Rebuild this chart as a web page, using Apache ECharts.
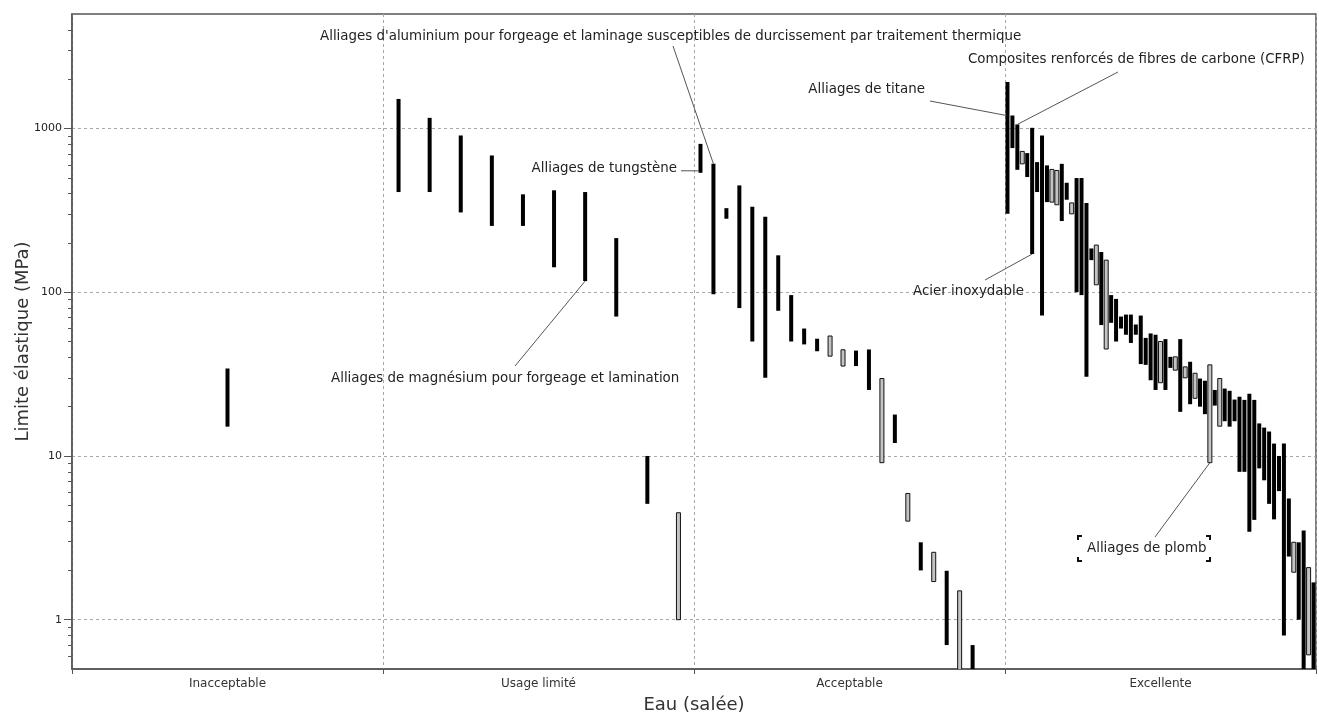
<!DOCTYPE html>
<html>
<head>
<meta charset="utf-8">
<script src="https://cdn.jsdelivr.net/npm/echarts@6/dist/echarts.min.js"></script>
<style>
html,body{margin:0;padding:0;background:#fff;}
#c{width:1319px;height:717px;}
</style>
</head>
<body>
<div id="c"></div>
<script>
// ---------- DATA ----------
const categories = ['Inacceptable', 'Usage limité', 'Acceptable', 'Excellente'];

// Inacceptable
const inaccMin  = [15.1];
const inaccMax  = [34.2];
const inaccOpen = [0];

// Usage limité
const limiteMin  = [409, 409, 307, 254, 254, 142, 117, 71, 5.1, 1.0];
const limiteMax  = [1514, 1161, 906, 684, 396, 419, 409, 214, 10, 4.5];
const limiteOpen = [0, 0, 0, 0, 0, 0, 0, 0, 0, 1];

// Acceptable
const acceptMin  = [536, 97, 281, 80, 50, 30, 77, 50, 48, 43.6, 40.7, 35.4, 35.4, 25.3, 9.1, 12, 4.0, 2.0, 1.71, 0.70, 0.4, 0.3, 0.2, 0.15];
const acceptMax  = [805, 608, 326, 449, 333, 289, 168, 96, 60, 52, 54, 44.5, 44, 44.7, 29.7, 17.9, 5.9, 2.97, 2.58, 1.99, 1.5, 0.70, 0.45, 0.4];
const acceptOpen = [0, 0, 0, 0, 0, 0, 0, 0, 0, 0, 1, 1, 0, 0, 1, 0, 1, 0, 1, 0, 1, 0, 0, 0];

// Excellente
const excelMin  = [301, 759, 559, 608, 505, 171, 409, 72, 355, 355, 342, 272, 367, 301, 100, 96, 30.5, 157, 111, 63, 45,
                   65, 50, 60, 55, 49, 55, 36.4, 36, 29, 25.3, 28, 25.3, 34.5, 33.4, 18.6, 30, 20.7, 22.5, 20, 18,
                   9.1, 20.3, 15.2, 16.3, 15.1, 16.3, 8, 8, 3.45, 4.07, 8.4, 7.1, 5.1, 4.1, 6.1, 0.8, 2.43, 1.95, 1.0, 0.4, 0.61, 0.4];
const excelMax  = [1919, 1200, 1058, 724, 707, 1009, 623, 906, 595, 562, 554, 608, 466, 351, 498, 498, 351, 185, 194, 176, 157,
                   96, 91, 71, 73, 73, 63.5, 72, 52.6, 56, 55, 50, 51.7, 40.3, 40.3, 51.7, 35, 37.6, 32, 29.7, 28.8,
                   36, 25.3, 29.7, 25.8, 25, 22.1, 23, 22, 24, 22, 15.8, 14.9, 14.1, 11.9, 10, 11.9, 5.5, 2.97, 2.97, 3.5, 2.08, 1.69];
const excelOpen = [0, 0, 0, 1, 0, 0, 0, 0, 0, 1, 1, 0, 0, 1, 0, 0, 0, 0, 1, 0, 1,
                   0, 0, 0, 0, 0, 0, 0, 0, 0, 0, 1, 0, 0, 1, 0, 1, 0, 1, 0, 0,
                   1, 0, 1, 0, 0, 0, 0, 0, 0, 0, 0, 0, 0, 0, 0, 0, 0, 1, 0, 0, 1, 0];

// Y axis tick labels (log)
const yTickValues = [1, 10, 100, 1000];
const yMinorTicks = [0.6, 0.7, 0.8, 0.9, 2, 3, 4, 5, 6, 7, 8, 9, 20, 30, 40, 50, 60, 70, 80, 90,
                     200, 300, 400, 500, 600, 700, 800, 900, 2000, 3000, 4000];

// Annotations: [text] and target [category index, item index, 'min'|'max']
const noteTexts = [
  "Alliages d'aluminium pour forgeage et laminage susceptibles de durcissement par traitement thermique",
  "Alliages de tungstène",
  "Alliages de magnésium pour forgeage et lamination",
  "Alliages de titane",
  "Composites renforcés de fibres de carbone (CFRP)",
  "Acier inoxydable",
  "Alliages de plomb"
];
const noteTargets = [[2, 1, 'max'], [2, 0, 'min'], [1, 6, 'min'], [3, 1, 'max'], [3, 2, 'max'], [3, 5, 'min'], [3, 41, 'min']];

// ---------- BUILD ----------
const groups = [
  [inaccMin, inaccMax, inaccOpen],
  [limiteMin, limiteMax, limiteOpen],
  [acceptMin, acceptMax, acceptOpen],
  [excelMin, excelMax, excelOpen]
];
function xPos(c, i) { return c + (i + 0.5) / groups[c][0].length; }
const barData = [];
groups.forEach((g, c) => {
  g[0].forEach((lo, i) => barData.push([xPos(c, i), lo, g[1][i], g[2][i]]));
});

const FONT = 'DejaVu Sans';
const chart = echarts.init(document.getElementById('c'), null, {renderer: 'canvas'});
const gridDash = {type: [3, 3], color: '#a8a8a8', width: 1};

chart.setOption({
  animation: false,
  backgroundColor: '#fff',
  grid: {left: 72, right: 3, top: 14, bottom: 48, show: true, borderColor: '#555', borderWidth: 1.5,
         backgroundColor: 'transparent', containLabel: false, outerBoundsMode: 'none'},
  xAxis: [
    {type: 'value', min: 0, max: 4, show: false},
    {type: 'category', data: categories, position: 'bottom', boundaryGap: true,
     axisLine: {show: true, lineStyle: {color: '#555', width: 1.5}},
     axisTick: {show: true, length: 5, lineStyle: {color: '#555'}},
     splitLine: {show: true, lineStyle: gridDash},
     axisLabel: {fontFamily: FONT, fontSize: 12, color: '#333', margin: 9},
     name: 'Eau (salée)', nameLocation: 'middle', nameGap: 27, nameMoveOverlap: false,
     nameTextStyle: {fontFamily: FONT, fontSize: 18, color: '#333'}},
  ],
  yAxis: [
    {type: 'log', logBase: 10, min: 0.5, max: 5000,
     axisLine: {show: true, lineStyle: {color: '#555', width: 1.5}},
     axisTick: {show: true, length: 8, customValues: yTickValues, lineStyle: {color: '#555'}},
     axisLabel: {customValues: yTickValues, fontFamily: FONT, fontSize: 11, color: '#222', margin: 10,
                 formatter: function (v) { return String(v); }},
     splitLine: {show: true, lineStyle: gridDash},
     name: 'Limite élastique (MPa)', nameLocation: 'middle', nameGap: 40, nameMoveOverlap: false,
     nameTextStyle: {fontFamily: FONT, fontSize: 18, color: '#333'}},
    {type: 'log', logBase: 10, min: 0.5, max: 5000, position: 'left',
     axisLine: {show: false},
     axisTick: {show: true, length: 4, customValues: yMinorTicks, lineStyle: {color: '#555'}},
     axisLabel: {show: false},
     splitLine: {show: false}}
  ],
  series: [{
    type: 'custom',
    xAxisIndex: 0, yAxisIndex: 0,
    clip: true,
    encode: {x: 0, y: [1, 2]},
    data: barData,
    renderItem: function (params, api) {
      const x = api.value(0), lo = api.value(1), hi = api.value(2), open = api.value(3);
      const pt = api.coord([x, hi]), pb = api.coord([x, lo]);
      const w = 4;
      return {
        type: 'rect',
        shape: {x: pt[0] - w / 2, y: pt[1], width: w, height: pb[1] - pt[1]},
        style: open ? {fill: '#c4c4c4', stroke: '#111', lineWidth: 1} : {fill: '#000'}
      };
    }
  }]
});

// ---------- ANNOTATIONS ----------
// label layout (pixels): text anchor x, y, alignment, leader start
const noteLayout = [
  {tx: 320, ty: 37, align: 'left', from: [673, 46]},
  {tx: 677, ty: 169, align: 'right', from: [681, null], horiz: true},
  {tx: 331, ty: 379, align: 'left', from: [515, 366]},
  {tx: 925, ty: 90, align: 'right', from: [930, 101]},
  {tx: 968, ty: 60, align: 'left', from: [1118, 72]},
  {tx: 913, ty: 292, align: 'left', from: [985, 280]},
  {tx: 1087, ty: 549, align: 'left', from: [1155, 537]}
];
const graphics = [];
noteTexts.forEach((t, k) => {
  const [c, i, which] = noteTargets[k];
  const v = which === 'min' ? groups[c][0][i] : groups[c][1][i];
  const p = chart.convertToPixel({xAxisIndex: 0, yAxisIndex: 0}, [xPos(c, i), v]);
  const L = noteLayout[k];
  let x1 = L.from[0], y1 = L.from[1], x2 = p[0], y2 = p[1];
  if (L.horiz) { y1 = p[1] - 2; y2 = y1; x2 = p[0] - 2; }
  if (k === 3) { x2 = p[0] - 6; }
  graphics.push({type: 'line', shape: {x1: x1, y1: y1, x2: x2, y2: y2}, style: {stroke: '#555', lineWidth: 1}, z: 50});
  graphics.push({type: 'text', x: L.tx, y: L.ty, style: {text: t, fontFamily: FONT, fontSize: 13.4, fill: '#222', align: L.align, verticalAlign: 'middle'}, z: 50});
});
// selection brackets around "Alliages de plomb"
const bx0 = 1078, bx1 = 1210, by0 = 536, by1 = 561, arm = 4;
[[bx0, by0, 1, 1], [bx1, by0, -1, 1], [bx0, by1, 1, -1], [bx1, by1, -1, -1]].forEach(b => {
  graphics.push({type: 'polyline', shape: {points: [[b[0] + b[2] * arm, b[1]], [b[0], b[1]], [b[0], b[1] + b[3] * arm]]},
    style: {stroke: '#111', lineWidth: 2, fill: null}, z: 50});
});
chart.setOption({graphic: graphics});
</script>
</body>
</html>
